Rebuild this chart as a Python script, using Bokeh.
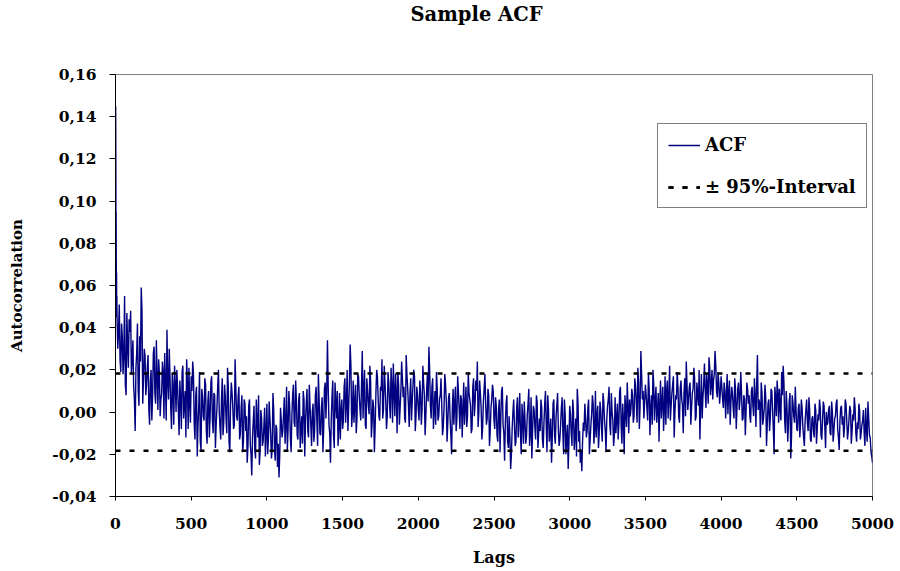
from bokeh.plotting import figure
from bokeh.models import Range1d, FixedTicker, Legend, LegendItem, Title
from bokeh.embed import file_html
from bokeh.resources import INLINE

# ---- data ----
early_lags = [1, 2, 3, 4, 5, 6, 7, 8, 9]
early_acf = [0.145, 0.126, 0.088, 0.095, 0.073, 0.060, 0.066, 0.045, 0.055]

# lags 10, 20, ..., 5000
step_acf = [
    0.046, 0.038, 0.025, 0.042, 0.018, 0.055, 0.008, 0.032, 0.044, 0.048,
    0.025, 0.012, -0.009, 0.028, 0.010, 0.036, 0.059, 0.004, 0.030, 0.008,
    0.021, 0.002, 0.015, -0.004, 0.028, 0.009, 0.034, 0.001, 0.018, 0.006,
    0.024, -0.003, 0.013, 0.039, 0.006, 0.017, -0.008, 0.011, 0.022, 0.000,
    0.012, -0.011, 0.006, 0.019, -0.003, 0.010, 0.025, -0.008, 0.004, 0.017,
    0.024, -0.006, 0.008, -0.021, 0.003, -0.014, 0.011, -0.002, 0.016, -0.009,
    0.005, -0.012, 0.014, -0.004, 0.009, -0.017, 0.002, 0.020, -0.007, 0.006,
    -0.011, 0.013, -0.003, 0.021, -0.014, 0.004, 0.009, -0.008, 0.025, -0.002,
    0.007, -0.013, 0.002, -0.019, 0.006, -0.009, -0.024, 0.003, -0.015, -0.030,
    -0.004, -0.018, 0.006, -0.012, -0.025, 0.001, -0.016, -0.007, -0.021, 0.004,
    -0.013, -0.003, -0.022, 0.009, -0.017, -0.006, -0.026, -0.031, 0.002, -0.012,
    -0.001, -0.015, 0.012, -0.008, 0.003, -0.019, 0.008, -0.005, 0.015, -0.011,
    0.006, -0.017, -0.002, 0.010, -0.021, 0.004, -0.009, 0.013, -0.006, 0.000,
    -0.014, 0.008, -0.004, 0.018, -0.010, 0.002, -0.019, 0.011, -0.003, 0.034,
    -0.006, -0.024, 0.007, -0.011, 0.014, -0.003, -0.016, 0.009, 0.001, -0.008,
    0.012, -0.005, 0.020, 0.002, 0.032, -0.007, 0.015, 0.004, -0.010, 0.018,
    0.008, -0.004, 0.029, 0.011, -0.006, 0.016, 0.003, 0.022, -0.012, 0.006,
    -0.019, 0.009, 0.017, -0.002, 0.012, 0.025, 0.001, 0.014, -0.008, 0.019,
    0.004, 0.021, -0.005, 0.010, 0.018, -0.010, 0.013, 0.002, 0.024, 0.007,
    -0.003, 0.027, 0.011, -0.007, 0.016, 0.005, 0.020, -0.009, 0.012, 0.001,
    0.015, -0.006, 0.022, 0.008, -0.002, 0.018, 0.031, 0.003, 0.012, -0.008,
    0.010, 0.019, -0.004, 0.006, 0.016, -0.011, 0.002, 0.013, -0.014, 0.007,
    -0.003, -0.020, 0.011, 0.004, -0.009, 0.017, 0.001, 0.008, -0.012, 0.014,
    0.003, -0.007, 0.019, 0.006, -0.010, 0.012, -0.002, 0.015, 0.024, 0.000,
    0.009, -0.013, 0.005, 0.018, -0.006, 0.011, -0.016, 0.002, 0.013, -0.004,
    0.007, -0.011, 0.001, -0.019, 0.010, -0.006, -0.023, 0.004, -0.014, -0.002,
    -0.027, -0.008, 0.006, -0.016, 0.002, -0.012, 0.009, -0.020, -0.004, 0.005,
    -0.015, -0.001, 0.011, -0.010, -0.022, 0.003, -0.007, 0.008, -0.017, -0.003,
    0.006, -0.013, -0.005, 0.010, -0.019, 0.001, -0.009, -0.024, 0.004, -0.011,
    -0.002, 0.009, -0.016, -0.006, 0.007, -0.020, -0.001, -0.013, -0.027, 0.003,
    -0.010, 0.006, -0.018, -0.003, 0.011, -0.014, -0.024, -0.028, -0.005, 0.004,
    -0.012, 0.002, -0.020, -0.006, 0.008, -0.015, 0.010, -0.002, -0.017, 0.005,
    -0.008, 0.009, -0.004, -0.019, 0.003, 0.012, -0.011, 0.000, -0.016, 0.007,
    -0.003, -0.013, 0.010, -0.007, 0.004, -0.020, 0.001, 0.014, -0.010, -0.002,
    0.011, -0.005, 0.016, 0.004, 0.021, -0.008, 0.029, 0.006, -0.003, 0.013,
    0.002, 0.018, -0.011, 0.008, 0.020, -0.004, 0.012, 0.001, -0.014, 0.015,
    0.005, -0.009, 0.017, 0.010, -0.003, 0.022, 0.003, 0.013, -0.012, 0.008,
    0.019, -0.002, 0.011, 0.006, -0.010, 0.016, 0.024, 0.001, 0.012, -0.006,
    0.009, 0.021, -0.004, 0.014, 0.003, -0.013, 0.018, 0.007, 0.023, 0.002,
    0.012, 0.026, 0.008, 0.020, 0.015, 0.029, 0.010, 0.019, 0.004, 0.017,
    0.006, 0.014, -0.003, 0.018, 0.009, -0.006, 0.012, 0.002, 0.016, -0.008,
    0.011, 0.001, 0.019, -0.004, 0.008, -0.011, 0.014, 0.004, -0.002, 0.010,
    0.003, 0.016, -0.007, 0.027, 0.006, -0.012, 0.009, -0.003, 0.013, -0.016,
    0.004, -0.009, 0.011, 0.001, -0.020, 0.007, 0.015, -0.005, 0.002, 0.019,
    0.022, -0.004, 0.010, -0.014, 0.005, -0.022, 0.008, -0.002, 0.012, -0.008,
    0.002, -0.012, 0.006, -0.007, -0.016, 0.001, -0.005, 0.007, -0.013, -0.003,
    -0.009, 0.004, -0.015, -0.001, 0.006, -0.011, -0.004, 0.003, -0.017, -0.006,
    0.001, -0.010, 0.005, -0.014, -0.003, 0.004, -0.008, -0.018, 0.002, -0.006,
    -0.012, 0.006, -0.004, -0.009, 0.003, -0.015, -0.001, 0.007, -0.010, -0.005,
    0.004, -0.013, -0.006, 0.001, -0.016, -0.008, 0.005, -0.011, -0.019, -0.024,
]

# lags 15, 25, ..., 4995
half_acf = [
    0.030, 0.051, 0.019, 0.036, 0.027, 0.013, 0.047, 0.021, 0.038,
    0.018, 0.034, 0.006, 0.021, 0.042, 0.003, 0.024, 0.048, 0.016, 0.027,
    0.013, 0.027, -0.006, 0.020, 0.008, 0.031, 0.004, 0.016, 0.025, -0.002,
    0.009, 0.019, 0.028, -0.004, 0.014, 0.030, 0.002, 0.018, -0.006, 0.013,
    0.020, 0.001, 0.015, -0.008, 0.022, 0.004, -0.012, 0.013, 0.021, -0.005,
    0.010, 0.018, -0.013, 0.012, -0.006, 0.019, -0.018, 0.007, -0.004, 0.013,
    -0.015, 0.010, -0.002, 0.017, -0.010, 0.008, -0.006, 0.012, 0.001, -0.013,
    0.016, -0.005, 0.008, -0.010, 0.012, -0.019, 0.014, 0.002, -0.006, 0.011,
    -0.004, 0.012, -0.010, 0.008, -0.014, 0.004, -0.002, -0.016, 0.006, -0.020,
    -0.012, 0.003, -0.022, -0.005, 0.008, -0.019, -0.003, -0.014, 0.002, -0.010,
    -0.020, 0.005, -0.011, -0.018, 0.001, -0.023, -0.008, -0.015, -0.020, -0.004,
    -0.009, 0.007, -0.006, -0.018, 0.010, -0.012, -0.002, 0.013, -0.007, 0.005,
    -0.013, 0.009, -0.008, -0.015, 0.006, -0.004, 0.011, -0.012, 0.003, -0.016,
    0.004, -0.009, 0.012, -0.016, 0.006, -0.011, 0.007, -0.008, 0.014, 0.009,
    0.012, -0.010, -0.004, 0.015, -0.017, 0.005, 0.010, -0.007, -0.013, 0.006,
    -0.004, 0.016, 0.004, -0.009, 0.014, 0.022, 0.000, -0.005, 0.013, -0.003,
    0.017, 0.001, 0.013, -0.003, 0.020, -0.008, 0.010, -0.001, 0.015, -0.005,
    0.002, -0.007, 0.020, 0.006, -0.004, 0.010, -0.003, 0.022, 0.005, -0.002,
    0.014, -0.003, 0.012, 0.023, -0.002, 0.009, 0.019, -0.006, 0.010, 0.016,
    0.012, -0.005, 0.018, 0.003, 0.009, -0.004, 0.013, 0.017, -0.002, 0.008,
    -0.004, 0.009, 0.001, 0.014, -0.011, 0.010, 0.005, 0.020, -0.003, 0.016,
    0.001, -0.006, 0.011, -0.002, 0.008, 0.003, -0.007, 0.018, 0.005, -0.005,
    0.009, -0.011, 0.002, -0.006, 0.012, -0.003, 0.010, -0.008, 0.006, 0.001,
    -0.006, 0.012, -0.002, 0.009, 0.003, -0.008, 0.016, 0.004, 0.010, -0.007,
    0.015, 0.002, -0.007, 0.011, 0.004, -0.003, 0.008, -0.009, 0.006, 0.010,
    -0.008, 0.003, -0.014, 0.006, -0.003, 0.012, -0.010, -0.005, 0.008, -0.017,
    -0.012, -0.020, 0.000, -0.006, -0.014, 0.007, -0.003, -0.011, 0.004, -0.015,
    -0.004, -0.011, 0.004, -0.016, 0.007, -0.009, 0.001, -0.013, 0.005, -0.010,
    -0.009, 0.002, -0.017, 0.004, -0.006, 0.008, -0.014, -0.003, -0.012, 0.006,
    -0.015, 0.003, -0.008, -0.013, 0.002, -0.010, 0.006, -0.020, -0.006, -0.014,
    -0.001, -0.016, 0.000, -0.011, -0.021, 0.004, -0.009, -0.018, -0.014, -0.009,
    -0.003, -0.009, 0.006, -0.013, -0.001, 0.004, -0.008, -0.012, 0.003, -0.010,
    0.001, -0.014, 0.005, -0.009, -0.003, 0.006, -0.006, 0.009, -0.004, -0.011,
    -0.010, 0.004, -0.005, 0.012, -0.015, -0.004, 0.008, -0.007, 0.003, 0.006,
    0.002, 0.008, -0.002, 0.012, -0.005, 0.014, 0.003, 0.018, 0.010, 0.005,
    0.008, -0.004, 0.011, 0.002, -0.006, 0.013, 0.006, -0.005, 0.009, 0.004,
    -0.003, 0.012, 0.001, -0.006, 0.015, 0.007, -0.004, 0.009, 0.017, 0.000,
    0.006, 0.012, -0.005, 0.015, 0.003, 0.009, -0.002, 0.013, 0.006, 0.014,
    0.002, 0.011, 0.016, -0.002, 0.009, 0.020, 0.004, -0.003, 0.013, 0.010,
    0.018, 0.004, 0.021, 0.013, 0.006, 0.018, 0.022, 0.007, 0.014, 0.009,
    0.012, 0.002, 0.010, 0.008, -0.001, 0.015, 0.005, 0.009, -0.003, 0.011,
    0.002, 0.014, 0.006, 0.009, -0.003, 0.006, 0.000, 0.011, 0.008, -0.005,
    0.012, -0.002, 0.008, 0.013, 0.001, 0.004, 0.014, -0.006, 0.002, 0.007,
    -0.006, 0.006, -0.003, 0.010, -0.008, 0.012, -0.002, 0.009, 0.011, -0.004,
    0.008, 0.014, -0.010, 0.003, -0.006, 0.009, -0.012, 0.004, -0.005, 0.001,
    -0.009, 0.004, -0.005, 0.002, -0.012, -0.004, 0.006, -0.009, 0.001, -0.014,
    -0.002, -0.012, 0.001, -0.008, -0.004, 0.002, -0.013, 0.005, -0.007, 0.000,
    -0.005, 0.003, -0.011, 0.000, -0.009, -0.002, 0.006, -0.012, -0.004, 0.003,
    -0.002, -0.007, 0.004, -0.013, -0.003, 0.001, -0.009, -0.004, 0.002, -0.014,
    -0.008, 0.001, -0.010, -0.004, -0.010, 0.002, -0.014, -0.003, -0.012, -0.021,
]

step_lags = [10 * (i + 1) for i in range(len(step_acf))]
half_lags = [15 + 10 * i for i in range(len(half_acf))]
pairs = sorted(zip(early_lags + step_lags + half_lags,
                   early_acf + step_acf + half_acf))
lags = [a for a, b in pairs]
acf = [b for a, b in pairs]

ci_bound = 0.0183  # +/- 95% interval
x_min, x_max = 0, 5000
y_min, y_max = -0.04, 0.16

y_ticks = [-0.04, -0.02, 0.0, 0.02, 0.04, 0.06, 0.08, 0.10, 0.12, 0.14, 0.16]
y_tick_labels = ["-0,04", "-0,02", "0,00", "0,02", "0,04", "0,06",
                 "0,08", "0,10", "0,12", "0,14", "0,16"]
x_ticks = [0, 500, 1000, 1500, 2000, 2500, 3000, 3500, 4000, 4500, 5000]

FONT = "DejaVu Serif"

p = figure(width=900, height=571, output_backend="svg", toolbar_location=None,
           title=None,
           x_range=Range1d(x_min, x_max), y_range=Range1d(y_min, y_max),
           min_border_left=115, min_border_right=28,
           min_border_top=74, min_border_bottom=75)

# spacer between the title and the plot frame, then the title itself
spacer = Title(text=" ", text_font_size="10px", standoff=32)
p.add_layout(spacer, "above")
main_title = Title(text="Sample ACF", align="left", offset=295, standoff=4,
                   vertical_align="top", text_font=FONT, text_font_style="bold",
                   text_font_size="19.5px", text_color="black")
p.add_layout(main_title, "above")

p.outline_line_color = "#808080"
p.outline_line_width = 1
p.xgrid.visible = False
p.ygrid.visible = False
p.background_fill_color = "white"
p.border_fill_color = "white"

r_acf = p.line(lags, acf, line_color="#000080", line_width=1.4)
r_up = p.line([x_min, x_max], [ci_bound, ci_bound], line_color="black",
              line_width=2.5, line_dash="5 9")
r_dn = p.line([x_min, x_max], [-ci_bound, -ci_bound], line_color="black",
              line_width=2.5, line_dash="5 9")

for ax in (p.xaxis[0], p.yaxis[0]):
    ax.axis_line_color = "black"
    ax.axis_line_width = 1
    ax.major_tick_line_color = "black"
    ax.major_tick_in = 0
    ax.minor_tick_line_color = None
    ax.major_label_text_font = FONT
    ax.major_label_text_font_style = "bold"
    ax.major_label_text_font_size = "15.5px"
    ax.major_label_text_color = "black"
    ax.axis_label_text_font = FONT
    ax.axis_label_text_font_style = "bold"
    ax.axis_label_text_color = "black"

p.yaxis.ticker = FixedTicker(ticks=y_ticks)
p.yaxis.major_label_overrides = {t: l for t, l in zip(y_ticks, y_tick_labels)}
p.yaxis.major_tick_out = 6
p.yaxis.major_label_standoff = 13
p.yaxis.axis_label = "Autocorrelation"
p.yaxis.axis_label_text_font_size = "15px"
p.yaxis.axis_label_standoff = 23

p.xaxis.ticker = FixedTicker(ticks=x_ticks)
p.xaxis.major_tick_out = 4
p.xaxis.major_label_standoff = 17
p.xaxis.axis_label = "Lags"
p.xaxis.axis_label_text_font_size = "16px"
p.xaxis.axis_label_standoff = 16

legend = Legend(items=[LegendItem(label="ACF", renderers=[r_acf]),
                       LegendItem(label="\u00b1 95%-Interval", renderers=[r_up, r_dn])],
                location=(542, 288))
legend.label_text_font = FONT
legend.label_text_font_style = "bold"
legend.label_text_font_size = "18px"
legend.label_text_color = "black"
legend.glyph_width = 32
legend.glyph_height = 20
legend.label_height = 20
legend.label_standoff = 5
legend.spacing = 21
legend.padding = 10
legend.margin = 0
legend.border_line_color = "black"
legend.border_line_width = 1
legend.background_fill_alpha = 1.0
p.add_layout(legend)

open("out.html", "w").write(file_html(p, INLINE))
